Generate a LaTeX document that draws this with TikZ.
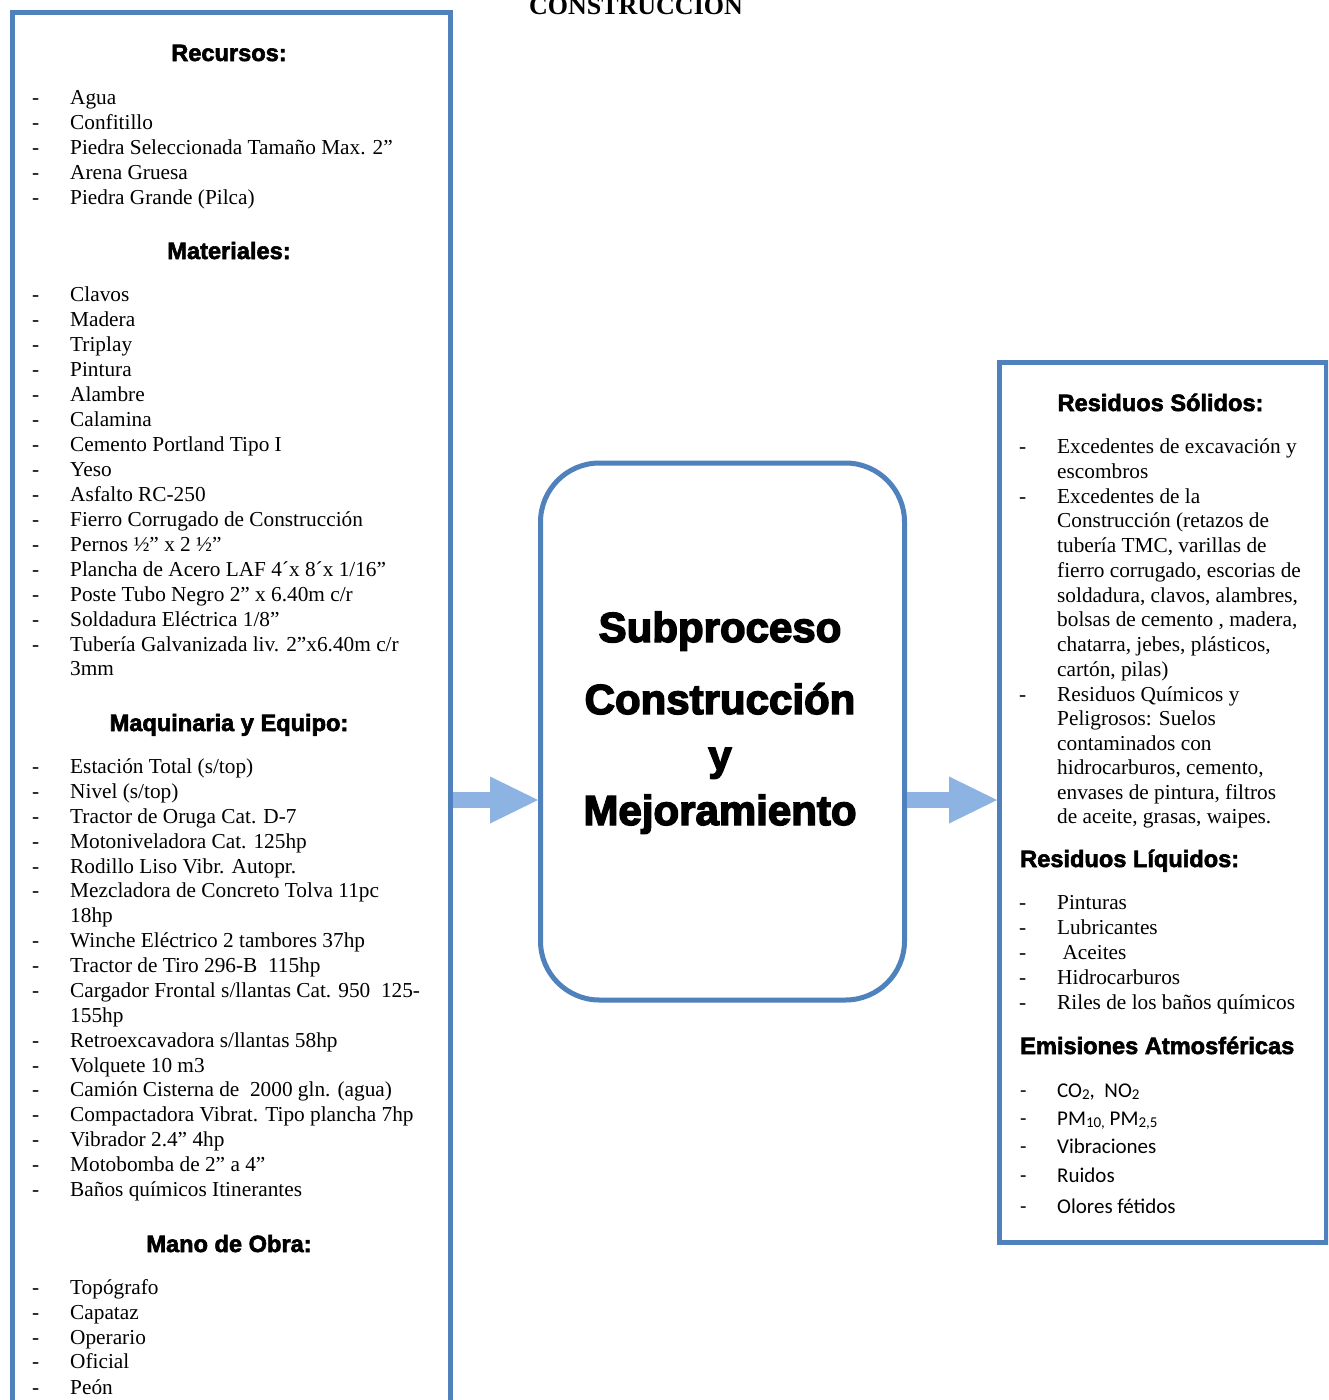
\documentclass[tikz,border=0pt]{standalone}
\usepackage{fontspec}
\usetikzlibrary{arrows.meta}
\setmainfont{Liberation Serif}
\newfontfamily\hfont[FakeBold=2.5]{Liberation Sans Bold}
\newfontfamily\cenfont[FakeBold=3.5]{Liberation Sans Bold}
\newfontfamily\cfont{Carlito}
\definecolor{frameblue}{HTML}{4F81BD}
\definecolor{arrowblue}{HTML}{8DB3E2}
\newcommand\Litem[3]{\node[txt] (#1d) at (32,#2) {-}; \node[txt] (#1) at (70,#2) {#3};}
\newcommand\Lcont[3]{\node[txt] (#1) at (70,#2) {#3};}
\newcommand\Ritem[3]{\node[txt] (#1d) at (1019,#2) {-}; \node[txt] (#1) at (1057,#2) {#3};}
\newcommand\Rcont[3]{\node[txt] (#1) at (1057,#2) {#3};}
\newcommand\Citem[3]{\node[ctxt] (#1d) at (1020,#2) {-}; \node[ctxt] (#1) at (1057,#2) {#3};}
\newcommand\sbs[1]{\raisebox{-2pt}{\fontsize{15}{15}\selectfont #1}}
\begin{document}
\begin{tikzpicture}[x=1pt,y=-1pt,
  txt/.style={anchor=base west, inner sep=0pt, font=\fontsize{21.3}{25}\selectfont},
  ctxt/.style={anchor=base west, inner sep=0pt, font=\cfont\fontsize{21}{25}\selectfont},
  hd/.style={anchor=base, inner sep=0pt, font=\hfont\fontsize{23.6}{28}\selectfont},
  hdl/.style={hd, anchor=base west},
  ctr/.style={anchor=base, inner sep=0pt, font=\cenfont\fontsize{42}{48}\selectfont},
  frame/.style={draw=frameblue, line width=5pt, fill=white, inner sep=0pt},
  flow/.style={draw=arrowblue, line width=16pt, -{Triangle[length=48pt,width=47pt,line width=0pt]}}
]
\useasboundingbox (0,0) rectangle (1328,1400);
\clip (0,0) rectangle (1328,1400);
\fill[white] (0,0) rectangle (1328,1400);

% title (cut at top edge, as in the reference)
\node[anchor=base, inner sep=0pt, font=\bfseries\fontsize{26}{30}\selectfont] (title) at (636,14) {CONSTRUCCION};

% boxes
\node[frame, rectangle, anchor=north west, minimum width=438pt, minimum height=1430pt] (left) at (10,10) {};
\node[frame, rectangle, rounded corners=59pt, anchor=north west, minimum width=364pt, minimum height=537pt] (mid) at (538,460.5) {};
\node[frame, rectangle, anchor=north west, minimum width=327pt, minimum height=880pt] (right) at (997,359.5) {};

% arrows
\draw[flow] (left.east |- 0,800) -- (mid.west |- 0,800);
\draw[flow] (mid.east |- 0,800) -- (right.west |- 0,800);

% center text
\node[ctr] (c1) at (720,642) {Subproceso};
\node[ctr] (c2) at (720,714) {Construcción};
\node[ctr] (c3) at (720,770) {y};
\node[ctr] (c4) at (720,825) {Mejoramiento};

% left box
\node[hd] (hrec) at (229,61) {Recursos:};
\Litem{r1}{104}{Agua}
\Litem{r2}{129}{Confitillo}
\Litem{r3}{154}{Piedra Seleccionada Tamaño Max. 2”}
\Litem{r4}{179}{Arena Gruesa}
\Litem{r5}{204}{Piedra Grande (Pilca)}

\node[hd] (hmat) at (229,259) {Materiales:};
\Litem{m1}{301}{Clavos}
\Litem{m2}{326}{Madera}
\Litem{m3}{351}{Triplay}
\Litem{m4}{376}{Pintura}
\Litem{m5}{401}{Alambre}
\Litem{m6}{426}{Calamina}
\Litem{m7}{451}{Cemento Portland Tipo I}
\Litem{m8}{476}{Yeso}
\Litem{m9}{501}{Asfalto RC-250}
\Litem{m10}{526}{Fierro Corrugado de Construcción}
\Litem{m11}{551}{Pernos ½” x 2 ½”}
\Litem{m12}{576}{Plancha de Acero LAF 4´x 8´x 1/16”}
\Litem{m13}{601}{Poste Tubo Negro 2” x 6.40m c/r}
\Litem{m14}{626}{Soldadura Eléctrica 1/8”}
\Litem{m15}{651}{Tubería Galvanizada liv. 2”x6.40m c/r}
\Lcont{m15b}{675}{3mm}

\node[hd] (hmaq) at (229,731) {Maquinaria y Equipo:};
\Litem{q1}{773}{Estación Total (s/top)}
\Litem{q2}{798}{Nivel (s/top)}
\Litem{q3}{823}{Tractor de Oruga Cat. D-7}
\Litem{q4}{848}{Motoniveladora Cat. 125hp}
\Litem{q5}{873}{Rodillo Liso Vibr. Autopr.}
\Litem{q6}{897}{Mezcladora de Concreto Tolva 11pc}
\Lcont{q6b}{922}{18hp}
\Litem{q7}{947}{Winche Eléctrico 2 tambores 37hp}
\Litem{q8}{972}{Tractor de Tiro 296-B \ 115hp}
\Litem{q9}{997}{Cargador Frontal s/llantas Cat. 950 \ 125-}
\Lcont{q9b}{1022}{155hp}
\Litem{q10}{1047}{Retroexcavadora s/llantas 58hp}
\Litem{q11}{1072}{Volquete 10 m3}
\Litem{q12}{1096}{Camión Cisterna de \ 2000 gln. (agua)}
\Litem{q13}{1121}{Compactadora Vibrat. Tipo plancha 7hp}
\Litem{q14}{1146}{Vibrador 2.4” 4hp}
\Litem{q15}{1171}{Motobomba de 2” a 4”}
\Litem{q16}{1196}{Baños químicos Itinerantes}

\node[hd] (hmano) at (229,1252) {Mano de Obra:};
\Litem{o1}{1294}{Topógrafo}
\Litem{o2}{1319}{Capataz}
\Litem{o3}{1344}{Operario}
\Litem{o4}{1368}{Oficial}
\Litem{o5}{1394}{Peón}

% right box
\node[hd] (hsol) at (1160.5,411) {Residuos Sólidos:};
\Ritem{s1}{453}{Excedentes de excavación y}
\Rcont{s1b}{478}{escombros}
\Ritem{s2}{503}{Excedentes de la}
\Rcont{s2b}{527}{Construcción (retazos de}
\Rcont{s2c}{552}{tubería TMC, varillas de}
\Rcont{s2d}{577}{fierro corrugado, escorias de}
\Rcont{s2e}{602}{soldadura, clavos, alambres,}
\Rcont{s2f}{626}{bolsas de cemento , madera,}
\Rcont{s2g}{651}{chatarra, jebes, plásticos,}
\Rcont{s2h}{676}{cartón, pilas)}
\Ritem{s3}{701}{Residuos Químicos y}
\Rcont{s3b}{725}{Peligrosos: Suelos}
\Rcont{s3c}{750}{contaminados con}
\Rcont{s3d}{774}{hidrocarburos, cemento,}
\Rcont{s3e}{799}{envases de pintura, filtros}
\Rcont{s3f}{823}{de aceite, grasas, waipes.}

\node[hdl] (hliq) at (1020,867) {Residuos Líquidos:};
\Ritem{l1}{909}{Pinturas}
\Ritem{l2}{934}{Lubricantes}
\Ritem{l3}{959}{\ Aceites}
\Ritem{l4}{984}{Hidrocarburos}
\Ritem{l5}{1009}{Riles de los baños químicos}

\node[hdl] (hemi) at (1020,1054) {Emisiones Atmosféricas};
\Citem{e1}{1097}{CO\sbs{2}, \ NO\sbs{2}}
\Citem{e2}{1125}{PM\sbs{10,} PM\sbs{2,5}}
\Citem{e3}{1153}{Vibraciones}
\Citem{e4}{1182}{Ruidos}
\Citem{e5}{1213}{Olores fétidos}
\end{tikzpicture}
\end{document}
